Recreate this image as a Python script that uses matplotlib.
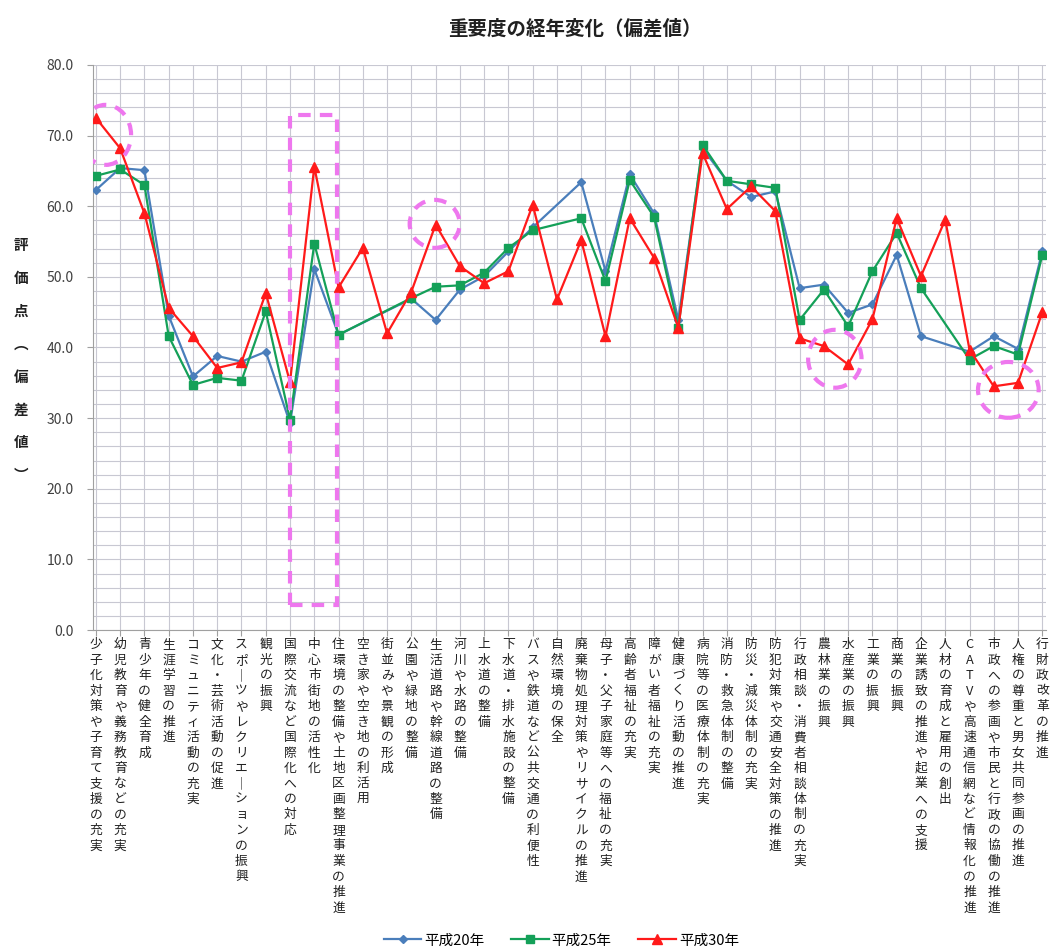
import numpy as np
import matplotlib
matplotlib.use("Agg")
import matplotlib.pyplot as plt
from matplotlib.patches import Ellipse, Rectangle
from matplotlib.lines import Line2D

plt.rcParams['font.family'] = ['Noto Sans CJK JP', 'DejaVu Sans']

categories = [
    "少子化対策や子育て支援の充実", "幼児教育や義務教育などの充実", "青少年の健全育成",
    "生涯学習の推進", "コミュニティ活動の充実", "文化・芸術活動の促進",
    "スポーツやレクリエーションの振興", "観光の振興", "国際交流など国際化への対応",
    "中心市街地の活性化", "住環境の整備や土地区画整理事業の推進", "空き家や空き地の利活用",
    "街並みや景観の形成", "公園や緑地の整備", "生活道路や幹線道路の整備",
    "河川や水路の整備", "上水道の整備", "下水道・排水施設の整備",
    "バスや鉄道など公共交通の利便性", "自然環境の保全", "廃棄物処理対策やリサイクルの推進",
    "母子・父子家庭等への福祉の充実", "高齢者福祉の充実", "障がい者福祉の充実",
    "健康づくり活動の推進", "病院等の医療体制の充実", "消防・救急体制の整備",
    "防災・減災体制の充実", "防犯対策や交通安全対策の推進", "行政相談・消費者相談体制の充実",
    "農林業の振興", "水産業の振興", "工業の振興",
    "商業の振興", "企業誘致の推進や起業への支援", "人材の育成と雇用の創出",
    "CATVや高速通信網など情報化の推進", "市政への参画や市民と行政の協働の推進",
    "人権の尊重と男女共同参画の推進", "行財政改革の推進",
]

nan = np.nan
h20 = [62.3, 65.4, 65.1, 44.5, 35.9, 38.8, 38.0, 39.4, 29.3, 51.1,
       41.8, nan, nan, 46.9, 43.9, 48.2, 50.1, 53.6, 57.0, nan,
       63.4, 50.8, 64.5, 59.0, 43.9, 68.2, 63.6, 61.3, 62.1, 48.4,
       48.9, 44.9, 46.1, 53.1, 41.6, nan, 39.4, 41.6, 39.8, 53.6]
h25 = [64.3, 65.2, 63.0, 41.6, 34.7, 35.7, 35.3, 45.1, 29.8, 54.7,
       41.8, nan, nan, 47.0, 48.6, 48.8, 50.6, 54.1, 56.6, nan,
       58.3, 49.4, 63.7, 58.5, 42.8, 68.7, 63.6, 63.1, 62.6, 43.9,
       48.2, 43.0, 50.8, 56.2, 48.4, nan, 38.3, 40.2, 39.0, 53.1]
h30 = [72.5, 68.2, 59.0, 45.6, 41.6, 37.1, 37.9, 47.7, 35.1, 65.6,
       48.5, 54.1, 42.0, 47.9, 57.4, 51.5, 49.1, 50.8, 60.2, 46.8,
       55.2, 41.6, 58.3, 52.7, 42.8, 67.5, 59.6, 62.8, 59.3, 41.3,
       40.2, 37.6, 44.0, 58.3, 50.1, 58.1, 39.7, 34.5, 35.0, 45.0]

series = [("平成20年", h20, '#4A7EBB', 'D', 4.5),
          ("平成25年", h25, '#14A058', 's', 6),
          ("平成30年", h30, '#FF1A1A', '^', 6.5)]

fig = plt.figure(figsize=(10.53, 9.51), dpi=100)
ax = fig.add_axes([0.0883, 0.3375, 0.905, 0.5942])

x = np.arange(len(categories))
handles = []
for name, vals, col, mk, ms in series:
    v = np.array(vals, dtype=float)
    ok = ~np.isnan(v)
    ax.plot(x[ok], v[ok], color=col, lw=1.6, marker=mk, markersize=ms, zorder=3)
    handles.append(Line2D([], [], color=col, lw=1.6, marker=mk, markersize=ms, label=name))

ax.set_xlim(-0.12, len(categories) - 1 + 0.15)
ax.set_ylim(0, 80)
ax.set_yticks(np.arange(0, 81, 10))
ax.set_yticks(np.arange(0, 81, 2), minor=True)
ax.set_yticklabels([f"{t:.1f}" for t in np.arange(0, 81, 10)], fontsize=10, color='#404040')
ax.set_xticks(x)
ax.set_xticklabels([])
ax.grid(True, which='both', axis='y', color='#C8C8D2', lw=0.8)
ax.grid(True, which='major', axis='x', color='#C8C8D2', lw=0.8)
ax.set_axisbelow(True)
for s in ['top', 'right']:
    ax.spines[s].set_visible(False)
ax.spines['left'].set_color('#A0A0A0')
ax.spines['bottom'].set_color('#A0A0A0')
ax.tick_params(axis='x', length=4, color='#A0A0A0')
ax.tick_params(axis='y', which='major', length=4, color='#A0A0A0', pad=10)
ax.tick_params(axis='y', which='minor', length=0)

# vertical (tategaki) tick labels
for i, lab in enumerate(categories):
    for j, ch in enumerate(lab.replace('ー', '｜')):
        ax.annotate(ch, xy=(i, 0), xycoords=('data', 'axes fraction'),
                    xytext=(0, -10.5 - j * 11.15), textcoords='offset points',
                    ha='center', va='center', fontsize=9.2, color='#202020')

# y label, vertical
ylab = "評価点︵偏差値︶"
for j, ch in enumerate(ylab):
    fig.text(0.020, 0.742 - j * 0.0345, ch, ha='center', va='center',
             fontsize=10.5, fontweight='bold', color='#202020')

fig.text(0.546, 0.970, "重要度の経年変化（偏差値）", ha='center', va='center',
         fontsize=14, fontweight='bold', color='#202020')

# pink dashed highlights
pink = '#EE77EE'
ds = (0, (3, 2.2))
ax.add_patch(Ellipse((0.4, 70.1), 2.1, 8.5, fill=False, ec=pink, lw=3, ls=ds, zorder=4))
ax.add_patch(Rectangle((7.98, 3.6), 1.94, 69.3, fill=False, ec=pink, lw=3, ls=ds, zorder=4))
ax.add_patch(Ellipse((13.96, 57.5), 2.06, 6.8, fill=False, ec=pink, lw=3, ls=ds, zorder=4))
ax.add_patch(Ellipse((30.45, 38.4), 2.2, 8.2, fill=False, ec=pink, lw=3, ls=ds, zorder=4))
ax.add_patch(Ellipse((37.6, 34.0), 2.5, 7.9, fill=False, ec=pink, lw=3, ls=ds, zorder=4))

fig.legend(handles=handles, loc='center', bbox_to_anchor=(0.533, 0.011), ncol=3,
           frameon=False, fontsize=10.5, handlelength=2.6, columnspacing=1.8,
           handletextpad=0.2)

plt.savefig('out.png')
